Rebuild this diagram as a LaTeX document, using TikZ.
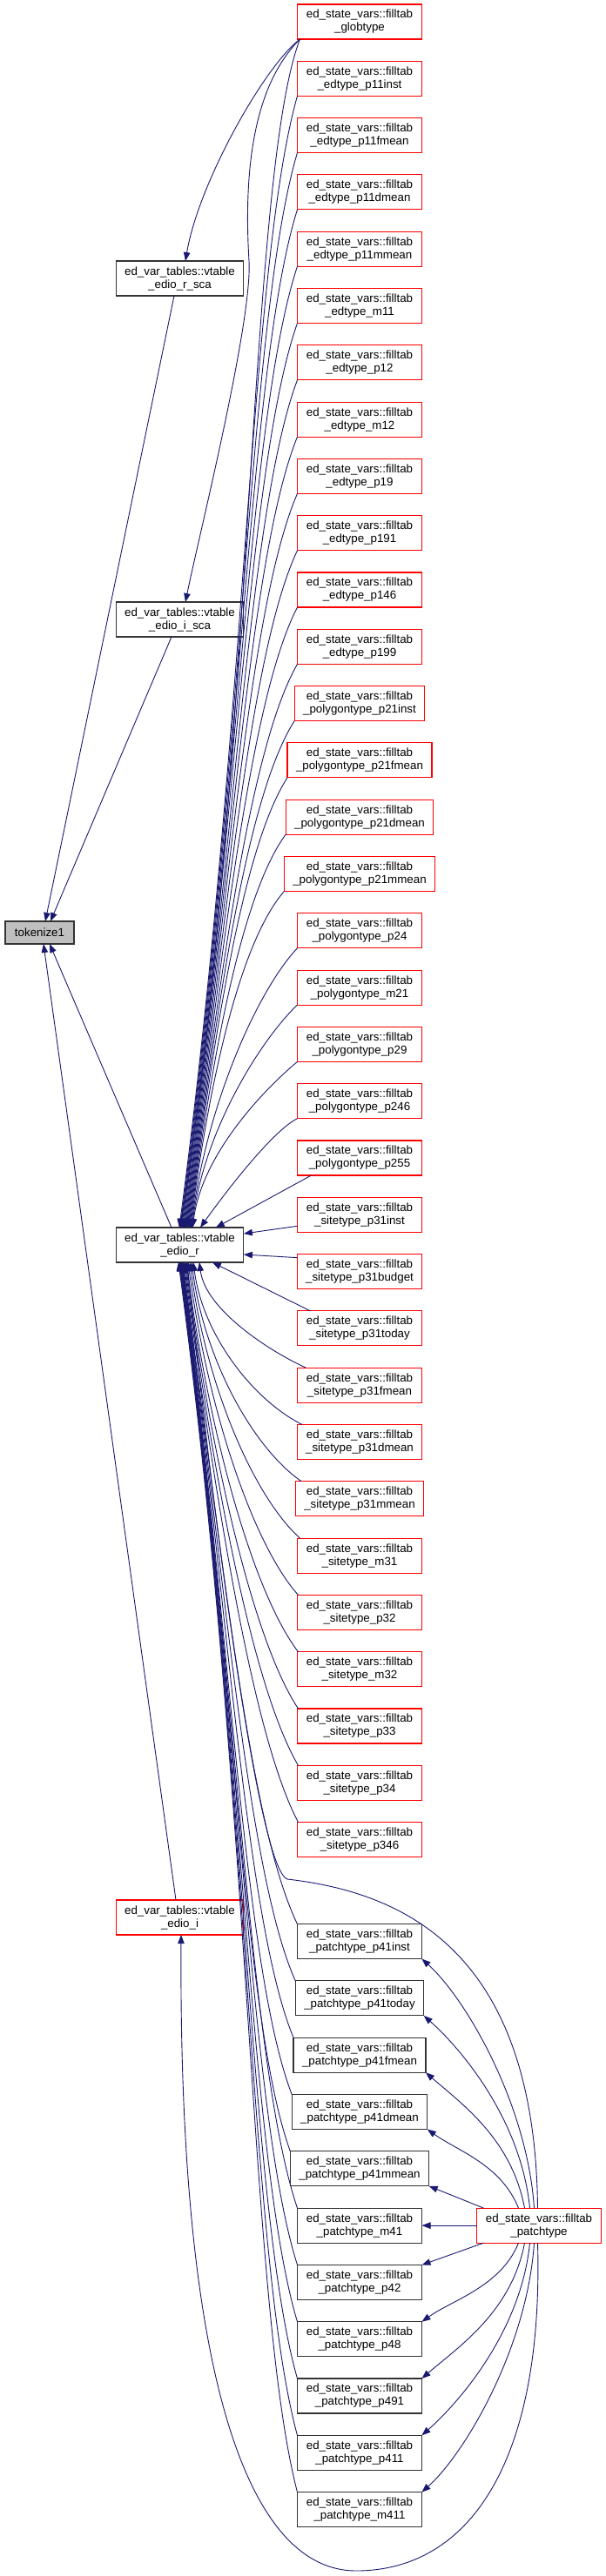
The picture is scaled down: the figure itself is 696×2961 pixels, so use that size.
\documentclass[tikz,border=0pt]{standalone}
\usepackage{fontspec}
\newfontfamily\graphfont{Liberation Sans}
\usepackage{xcolor}
\definecolor{edgeblue}{RGB}{25,25,112}
\definecolor{extred}{RGB}{255,0,0}
\definecolor{rootgrey}{RGB}{191,191,191}
\usepackage{tikz}
\usetikzlibrary{arrows.meta,positioning}
\tikzset{
  >={Triangle[length=10pt,width=7.5pt]},
  fnbox/.style={rectangle,draw=black!80,line width=1.1pt,fill=white,align=center,inner xsep=10pt,inner ysep=2pt,outer sep=0pt,minimum width=143pt,minimum height=40pt,font=\graphfont\fontsize{13.33}{15}\selectfont},
  extbox/.style={fnbox,draw=extred},
  rootbox/.style={fnbox,fill=rootgrey,minimum width=79pt,minimum height=26pt,inner xsep=11pt},
  call/.style={->,line width=0.9pt,draw=edgeblue}
}

\begin{document}
\begin{tikzpicture}[x=1pt,y=1pt,node distance=25.3pt]
  \useasboundingbox (0,0) rectangle (696,-2961);

  % Callees
  \node[rootbox] (tok) at (45.5,-1072) {tokenize1};
  \node[fnbox] (rsca) at (206.5,-320) {ed\_var\_tables::vtable\\\_edio\_r\_sca};
  \node[fnbox] (isca) at (206.5,-712) {ed\_var\_tables::vtable\\\_edio\_i\_sca};
  \node[fnbox] (vr) at (206.5,-1431) {ed\_var\_tables::vtable\\\_edio\_r};
  \node[extbox] (vi) at (206.5,-2204) {ed\_var\_tables::vtable\\\_edio\_i};

  % Callers, right column
  \node[extbox] (gl) at (413,-25) {ed\_state\_vars::filltab\\\_globtype};
  \node[extbox,below=of gl] (e11inst) {ed\_state\_vars::filltab\\\_edtype\_p11inst};
  \node[extbox,below=of e11inst] (e11fmean) {ed\_state\_vars::filltab\\\_edtype\_p11fmean};
  \node[extbox,below=of e11fmean] (e11dmean) {ed\_state\_vars::filltab\\\_edtype\_p11dmean};
  \node[extbox,below=of e11dmean] (e11mmean) {ed\_state\_vars::filltab\\\_edtype\_p11mmean};
  \node[extbox,below=of e11mmean] (em11) {ed\_state\_vars::filltab\\\_edtype\_m11};
  \node[extbox,below=of em11] (e12) {ed\_state\_vars::filltab\\\_edtype\_p12};
  \node[extbox,below=of e12] (em12) {ed\_state\_vars::filltab\\\_edtype\_m12};
  \node[extbox,below=of em12] (e19) {ed\_state\_vars::filltab\\\_edtype\_p19};
  \node[extbox,below=of e19] (e191) {ed\_state\_vars::filltab\\\_edtype\_p191};
  \node[extbox,below=of e191] (e146) {ed\_state\_vars::filltab\\\_edtype\_p146};
  \node[extbox,below=of e146] (e199) {ed\_state\_vars::filltab\\\_edtype\_p199};
  \node[extbox,below=of e199] (g21inst) {ed\_state\_vars::filltab\\\_polygontype\_p21inst};
  \node[extbox,below=of g21inst] (g21fmean) {ed\_state\_vars::filltab\\\_polygontype\_p21fmean};
  \node[extbox,below=of g21fmean] (g21dmean) {ed\_state\_vars::filltab\\\_polygontype\_p21dmean};
  \node[extbox,below=of g21dmean] (g21mmean) {ed\_state\_vars::filltab\\\_polygontype\_p21mmean};
  \node[extbox,below=of g21mmean] (g24) {ed\_state\_vars::filltab\\\_polygontype\_p24};
  \node[extbox,below=of g24] (gm21) {ed\_state\_vars::filltab\\\_polygontype\_m21};
  \node[extbox,below=of gm21] (g29) {ed\_state\_vars::filltab\\\_polygontype\_p29};
  \node[extbox,below=of g29] (g246) {ed\_state\_vars::filltab\\\_polygontype\_p246};
  \node[extbox,below=of g246] (g255) {ed\_state\_vars::filltab\\\_polygontype\_p255};
  \node[extbox,below=of g255] (s31inst) {ed\_state\_vars::filltab\\\_sitetype\_p31inst};
  \node[extbox,below=of s31inst] (s31budget) {ed\_state\_vars::filltab\\\_sitetype\_p31budget};
  \node[extbox,below=of s31budget] (s31today) {ed\_state\_vars::filltab\\\_sitetype\_p31today};
  \node[extbox,below=of s31today] (s31fmean) {ed\_state\_vars::filltab\\\_sitetype\_p31fmean};
  \node[extbox,below=of s31fmean] (s31dmean) {ed\_state\_vars::filltab\\\_sitetype\_p31dmean};
  \node[extbox,below=of s31dmean] (s31mmean) {ed\_state\_vars::filltab\\\_sitetype\_p31mmean};
  \node[extbox,below=of s31mmean] (sm31) {ed\_state\_vars::filltab\\\_sitetype\_m31};
  \node[extbox,below=of sm31] (s32) {ed\_state\_vars::filltab\\\_sitetype\_p32};
  \node[extbox,below=of s32] (sm32) {ed\_state\_vars::filltab\\\_sitetype\_m32};
  \node[extbox,below=of sm32] (s33) {ed\_state\_vars::filltab\\\_sitetype\_p33};
  \node[extbox,below=of s33] (s34) {ed\_state\_vars::filltab\\\_sitetype\_p34};
  \node[extbox,below=of s34] (s346) {ed\_state\_vars::filltab\\\_sitetype\_p346};

  % Patch level callers
  \node[fnbox,below=77pt of s346] (p41inst) {ed\_state\_vars::filltab\\\_patchtype\_p41inst};
  \node[fnbox,below=of p41inst] (p41today) {ed\_state\_vars::filltab\\\_patchtype\_p41today};
  \node[fnbox,below=of p41today] (p41fmean) {ed\_state\_vars::filltab\\\_patchtype\_p41fmean};
  \node[fnbox,below=of p41fmean] (p41dmean) {ed\_state\_vars::filltab\\\_patchtype\_p41dmean};
  \node[fnbox,below=of p41dmean] (p41mmean) {ed\_state\_vars::filltab\\\_patchtype\_p41mmean};
  \node[fnbox,below=of p41mmean] (pm41) {ed\_state\_vars::filltab\\\_patchtype\_m41};
  \node[fnbox,below=of pm41] (p42) {ed\_state\_vars::filltab\\\_patchtype\_p42};
  \node[fnbox,below=of p42] (p48) {ed\_state\_vars::filltab\\\_patchtype\_p48};
  \node[fnbox,below=of p48] (p491) {ed\_state\_vars::filltab\\\_patchtype\_p491};
  \node[fnbox,below=of p491] (p411) {ed\_state\_vars::filltab\\\_patchtype\_p411};
  \node[fnbox,below=of p411] (pm411) {ed\_state\_vars::filltab\\\_patchtype\_m411};
  \node[extbox,right=63pt of pm41] (patch) {ed\_state\_vars::filltab\\\_patchtype};

  % Into tokenize1
  \draw[call] ([xshift=-6.5pt]rsca.south) -- ([xshift=6.5pt]tok.north);
  \draw[call] ([xshift=-9.5pt]isca.south) -- ([xshift=12.5pt]tok.north);
  \draw[call] ([xshift=-9.5pt]vr.north) -- ([xshift=11.5pt]tok.south);
  \draw[call] ([xshift=-4.5pt]vi.north) -- ([xshift=4.5pt]tok.south);

  % Globtype
  \draw[call] ([xshift=3pt]gl.south west) .. controls +(-40,-30) and +(15,90) .. ([xshift=6.5pt]rsca.north);
  \draw[call] ([xshift=3pt]gl.south west) .. controls +(-55,-55) and +(-6,100) .. (286,-300) .. controls +(4,-70) and +(14,70) .. ([xshift=6.5pt]isca.north);
  \draw[call] ([xshift=3pt]gl.south west) .. controls +(-60,-155) and +(83,511) .. ([xshift=0.5pt]vr.north);

  % Into edio_r from above
  \draw[call] (e11inst.south west) .. controls +(-55,-195) and +(78,585) .. ([xshift=-0.6pt]vr.north);
  \draw[call] (e11fmean.south west) .. controls +(-55,-185) and +(74,556) .. ([xshift=0.3pt]vr.north);
  \draw[call] (e11dmean.south west) .. controls +(-55,-176) and +(70,527) .. ([xshift=1.2pt]vr.north);
  \draw[call] (e11mmean.south west) .. controls +(-55,-166) and +(66,497) .. ([xshift=2.1pt]vr.north);
  \draw[call] (em11.south west) .. controls +(-55,-156) and +(62,468) .. ([xshift=3pt]vr.north);
  \draw[call] (e12.south west) .. controls +(-55,-146) and +(59,438) .. ([xshift=3.9pt]vr.north);
  \draw[call] (em12.south west) .. controls +(-55,-136) and +(55,409) .. ([xshift=4.8pt]vr.north);
  \draw[call] (e19.south west) .. controls +(-55,-127) and +(51,380) .. ([xshift=5.7pt]vr.north);
  \draw[call] (e191.south west) .. controls +(-55,-117) and +(47,350) .. ([xshift=6.6pt]vr.north);
  \draw[call] (e146.south west) .. controls +(-55,-107) and +(43,321) .. ([xshift=7.5pt]vr.north);
  \draw[call] (e199.south west) .. controls +(-55,-97) and +(39,292) .. ([xshift=8.4pt]vr.north);
  \draw[call] (g21inst.south west) .. controls +(-55,-87) and +(35,262) .. ([xshift=9.3pt]vr.north);
  \draw[call] (g21fmean.south west) .. controls +(-50,-78) and +(31,233) .. ([xshift=10.2pt]vr.north);
  \draw[call] (g21dmean.south west) .. controls +(-50,-68) and +(27,203) .. ([xshift=11.1pt]vr.north);
  \draw[call] (g21mmean.south west) .. controls +(-50,-58) and +(23,174) .. ([xshift=12pt]vr.north);
  \draw[call] (g24.south west) .. controls +(-45,-48) and +(19,145) .. ([xshift=12.9pt]vr.north);
  \draw[call] (gm21.south west) .. controls +(-40,-38) and +(15,115) .. ([xshift=13.8pt]vr.north);
  \draw[call] (g29.south west) .. controls +(-35,-29) and +(11,86) .. ([xshift=14.7pt]vr.north);
  \draw[call] (g246.south west) .. controls +(-30,-15) and +(25,35) .. ([xshift=23.5pt]vr.north);
  \draw[call] ([xshift=16pt]g255.south west) -- ([xshift=-32pt]vr.north east);
  \draw[call] ([yshift=7pt]s31inst.south west) -- ([yshift=13pt]vr.east);

  % Into edio_r from below
  \draw[call] ([yshift=-4pt]s31budget.north west) -- ([yshift=-11pt]vr.east);
  \draw[call] ([xshift=15pt]s31today.north west) -- ([xshift=-36pt]vr.south east);
  \draw[call] ([xshift=10pt]s31fmean.north west) .. controls +(-40,18) and +(7,-55) .. ([xshift=22.5pt]vr.south);
  \draw[call] ([xshift=6pt]s31dmean.north west) .. controls +(-56,28) and +(11,-84) .. ([xshift=15.5pt]vr.south);
  \draw[call] ([xshift=7pt]s31mmean.north west) .. controls +(-55,38) and +(15,-113) .. ([xshift=13.5pt]vr.south);
  \draw[call] ([xshift=3pt]sm31.north west) .. controls +(-53,48) and +(19,-143) .. ([xshift=11.5pt]vr.south);
  \draw[call] ([xshift=1pt]s32.north west) .. controls +(-51,57) and +(23,-172) .. ([xshift=9.5pt]vr.south);
  \draw[call] ([xshift=1pt]sm32.north west) .. controls +(-51,67) and +(27,-202) .. ([xshift=7.5pt]vr.south);
  \draw[call] ([xshift=1pt]s33.north west) .. controls +(-51,77) and +(31,-231) .. ([xshift=6.5pt]vr.south);
  \draw[call] ([xshift=1pt]s34.north west) .. controls +(-51,87) and +(35,-260) .. ([xshift=5.5pt]vr.south);
  \draw[call] ([xshift=1pt]s346.north west) .. controls +(-51,97) and +(39,-290) .. ([xshift=4.5pt]vr.south);
  \draw[call] (p41inst.north west) .. controls +(-55,114) and +(46,-343) .. ([xshift=3.5pt]vr.south);
  \draw[call] (p41today.north west) .. controls +(-55,124) and +(50,-372) .. ([xshift=3pt]vr.south);
  \draw[call] (p41fmean.north west) .. controls +(-55,134) and +(54,-402) .. ([xshift=2.5pt]vr.south);
  \draw[call] (p41dmean.north west) .. controls +(-55,144) and +(57,-431) .. ([xshift=2pt]vr.south);
  \draw[call] (p41mmean.north west) .. controls +(-55,153) and +(61,-460) .. ([xshift=1.5pt]vr.south);
  \draw[call] (pm41.north west) .. controls +(-55,163) and +(65,-490) .. ([xshift=1pt]vr.south);
  \draw[call] (p42.north west) .. controls +(-55,173) and +(69,-519) .. ([xshift=0.5pt]vr.south);
  \draw[call] (p48.north west) .. controls +(-55,183) and +(73,-549) .. (vr.south);
  \draw[call] (p491.north west) .. controls +(-55,193) and +(77,-578) .. ([xshift=-0.5pt]vr.south);
  \draw[call] (p411.north west) .. controls +(-55,202) and +(81,-607) .. ([xshift=-1pt]vr.south);
  \draw[call] (pm411.north west) .. controls +(-55,212) and +(85,-637) .. ([xshift=-1.5pt]vr.south);
  \draw[call] ([xshift=-1.5pt]patch.north) .. controls +(-3,290) and +(140,-16) .. (330,-2160) .. controls +(-35,12) and +(25,-249) .. ([xshift=8.5pt]vr.south);

  % Patchtype fan
  \draw[call] ([xshift=-5.5pt]patch.north) .. controls +(-8,120) and +(50,-45) .. (p41inst.south east);
  \draw[call] ([xshift=-10.5pt]patch.north) .. controls +(-10,100) and +(45,-40) .. (p41today.south east);
  \draw[call] ([xshift=-16.5pt]patch.north) .. controls +(-15,80) and +(40,-35) .. (p41fmean.south east);
  \draw[call] ([xshift=-23.5pt]patch.north) .. controls +(-20,50) and +(35,-25) .. (p41dmean.south east);
  \draw[call] ([xshift=8pt]patch.north west) -- (p41mmean.south east);
  \draw[call] (patch.west) -- (pm41.east);
  \draw[call] ([xshift=8pt]patch.south west) -- (p42.north east);
  \draw[call] ([xshift=-23.5pt]patch.south) .. controls +(-20,-50) and +(35,25) .. (p48.north east);
  \draw[call] ([xshift=-16.5pt]patch.south) .. controls +(-15,-80) and +(40,35) .. (p491.north east);
  \draw[call] ([xshift=-10.5pt]patch.south) .. controls +(-10,-100) and +(45,40) .. (p411.north east);
  \draw[call] ([xshift=-5.5pt]patch.south) .. controls +(-8,-120) and +(50,45) .. (pm411.north east);
  \draw[call] ([xshift=-1.5pt]patch.south) .. controls +(7,-250) and +(131,0) .. (409,-2955) .. controls +(-119,0) and +(-3,-526) .. ([xshift=1.5pt]vi.south);
\end{tikzpicture}
\end{document}
